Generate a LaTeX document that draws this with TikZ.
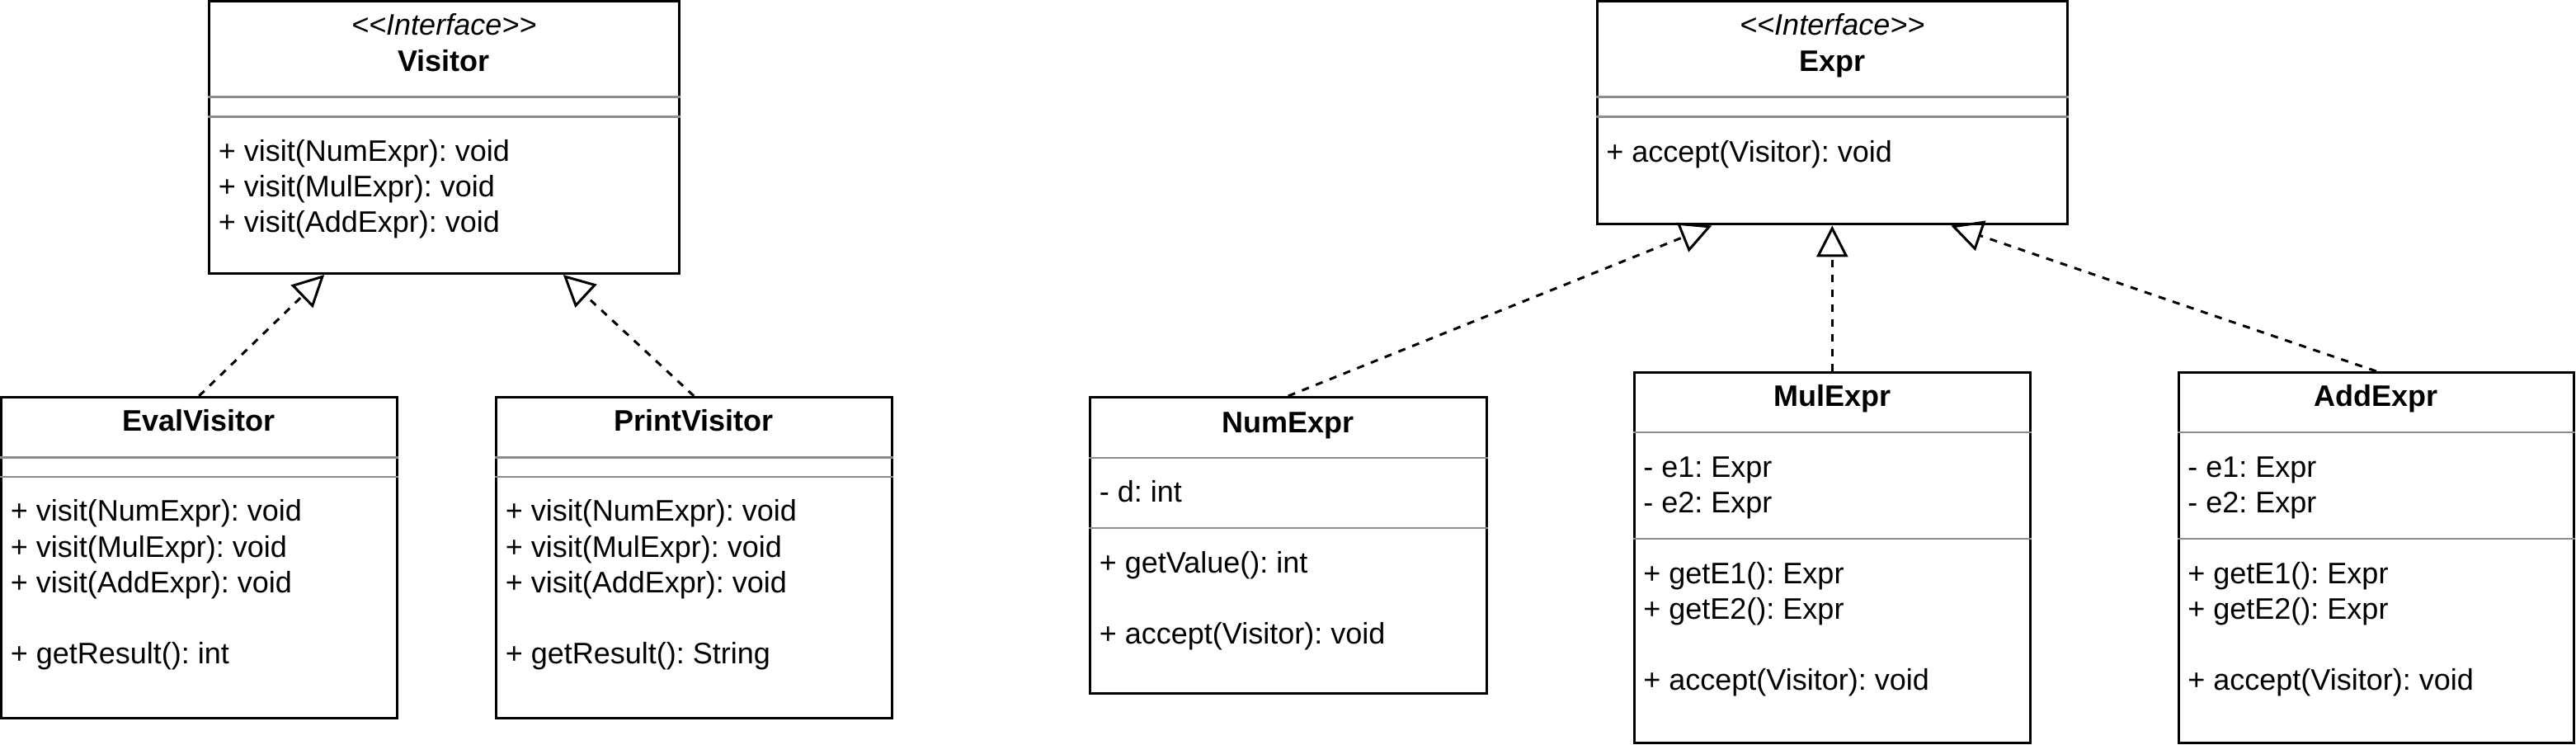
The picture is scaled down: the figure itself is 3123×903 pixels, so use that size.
\documentclass[tikz,border=0pt]{standalone}
\usepackage{fontspec}
\setmainfont{Liberation Sans}
\usetikzlibrary{arrows.meta,calc}
\frenchspacing
\newcommand\umlfs{\fontsize{18pt}{21.6pt}\selectfont}
\newcommand\stereo[1]{<\kern0pt<#1>\kern0pt>}
\definecolor{divgray}{RGB}{140,140,140}
\tikzset{
  cls/.style={draw=black, line width=1.5pt, rectangle, inner sep=0pt, fill=white},
  divline/.style={draw=divgray, line width=1.2pt},
  mtxt/.style={inner sep=0pt, anchor=base west, font=\umlfs},
  ttl/.style={inner sep=0pt, anchor=base, font=\umlfs\bfseries},
  ster/.style={inner sep=0pt, anchor=base, font=\umlfs\itshape},
  realize/.style={draw=black, line width=1.5pt, dash pattern=on 4.5pt off 4.5pt,
    -{Triangle[open, length=19pt, width=19pt, line width=1.5pt]}}
}
\begin{document}
\begin{tikzpicture}[x=0.5pt, y=-0.5pt]
\useasboundingbox (0,0) rectangle (3123,903);

% ---------- class boxes ----------
\node[cls, minimum width=284.75pt, minimum height=165pt] (visitor) at (538.25,166.5) {};
\node[cls, minimum width=239.75pt, minimum height=194.5pt] (eval) at (241.25,676) {};
\node[cls, minimum width=239.75pt, minimum height=194.5pt] (print) at (841.25,676) {};
\node[cls, minimum width=285.25pt, minimum height=135.25pt] (expr) at (2221.25,136.75) {};
\node[cls, minimum width=240.25pt, minimum height=179.25pt] (num) at (1561.75,660.75) {};
\node[cls, minimum width=240.25pt, minimum height=224.5pt] (mul) at (2221.25,676) {};
\node[cls, minimum width=239.85pt, minimum height=224.5pt] (add) at (2880.85,676) {};

% ---------- dividers ----------
\draw[divline] (visitor.west |- 0,117.5) -- (visitor.east |- 0,117.5);
\draw[divline] (visitor.west |- 0,141.5) -- (visitor.east |- 0,141.5);
\draw[divline] (expr.west |- 0,117.5) -- (expr.east |- 0,117.5);
\draw[divline] (expr.west |- 0,141.5) -- (expr.east |- 0,141.5);
\draw[divline] (eval.west |- 0,554.5) -- (eval.east |- 0,554.5);
\draw[divline] (eval.west |- 0,578) -- (eval.east |- 0,578);
\draw[divline] (print.west |- 0,554.5) -- (print.east |- 0,554.5);
\draw[divline] (print.west |- 0,578) -- (print.east |- 0,578);
\draw[divline] (num.west |- 0,555) -- (num.east |- 0,555);
\draw[divline] (num.west |- 0,640) -- (num.east |- 0,640);
\draw[divline] (mul.west |- 0,524) -- (mul.east |- 0,524);
\draw[divline] (mul.west |- 0,653) -- (mul.east |- 0,653);
\draw[divline] (add.west |- 0,524) -- (add.east |- 0,524);
\draw[divline] (add.west |- 0,653) -- (add.east |- 0,653);

% ---------- Visitor ----------
\node[ster] (vst) at (538.25,42.7) {\stereo{Interface}};
\node[ttl] (vtt) at (538.25,87) {Visitor};
\node[mtxt] (vm1) at (264.5,195.5) {+ visit(NumExpr): void};
\node[mtxt] (vm2) at (264.5,238.7) {+ visit(MulExpr): void};
\node[mtxt] (vm3) at (264.5,281.9) {+ visit(AddExpr): void};

% ---------- EvalVisitor ----------
\node[ttl] (ett) at (241.25,523) {EvalVisitor};
\node[mtxt] (em1) at (12.5,632) {+ visit(NumExpr): void};
\node[mtxt] (em2) at (12.5,675.2) {+ visit(MulExpr): void};
\node[mtxt] (em3) at (12.5,718.4) {+ visit(AddExpr): void};
\node[mtxt] (em4) at (12.5,804.8) {+ getResult(): int};

% ---------- PrintVisitor ----------
\node[ttl] (ptt) at (841.25,523) {PrintVisitor};
\node[mtxt] (pm1) at (612.5,632) {+ visit(NumExpr): void};
\node[mtxt] (pm2) at (612.5,675.2) {+ visit(MulExpr): void};
\node[mtxt] (pm3) at (612.5,718.4) {+ visit(AddExpr): void};
\node[mtxt] (pm4) at (612.5,804.8) {+ getResult(): String};

% ---------- Expr ----------
\node[ster] (xst) at (2221.25,42.7) {\stereo{Interface}};
\node[ttl] (xtt) at (2221.25,87) {Expr};
\node[mtxt] (xm1) at (1947,196.5) {+ accept(Visitor): void};

% ---------- NumExpr ----------
\node[ttl] (ntt) at (1561.75,524) {NumExpr};
\node[mtxt] (na1) at (1332.5,609) {- d: int};
\node[mtxt] (nm1) at (1332.5,694.5) {+ getValue(): int};
\node[mtxt] (nm2) at (1332.5,780.9) {+ accept(Visitor): void};

% ---------- MulExpr ----------
\node[ttl] (mtt) at (2221.25,493) {MulExpr};
\node[mtxt] (ma1) at (1992,578) {- e1: Expr};
\node[mtxt] (ma2) at (1992,621.2) {- e2: Expr};
\node[mtxt] (mm1) at (1992,707) {+ getE1(): Expr};
\node[mtxt] (mm2) at (1992,750.2) {+ getE2(): Expr};
\node[mtxt] (mm3) at (1992,836.6) {+ accept(Visitor): void};

% ---------- AddExpr ----------
\node[ttl] (att) at (2880.85,493) {AddExpr};
\node[mtxt] (aa1) at (2652,578) {- e1: Expr};
\node[mtxt] (aa2) at (2652,621.2) {- e2: Expr};
\node[mtxt] (am1) at (2652,707) {+ getE1(): Expr};
\node[mtxt] (am2) at (2652,750.2) {+ getE2(): Expr};
\node[mtxt] (am3) at (2652,836.6) {+ accept(Visitor): void};

% ---------- realizations ----------
\draw[realize] (eval.north) -- ($(visitor.south)+(-145,0)$);
\draw[realize] (print.north) -- ($(visitor.south)+(144.5,0)$);
\draw[realize] (num.north) -- ($(expr.south)+(-146,0)$);
\draw[realize] (mul.north) -- (expr.south);
\draw[realize] (add.north) -- ($(expr.south)+(144,0)$);
\end{tikzpicture}
\end{document}
